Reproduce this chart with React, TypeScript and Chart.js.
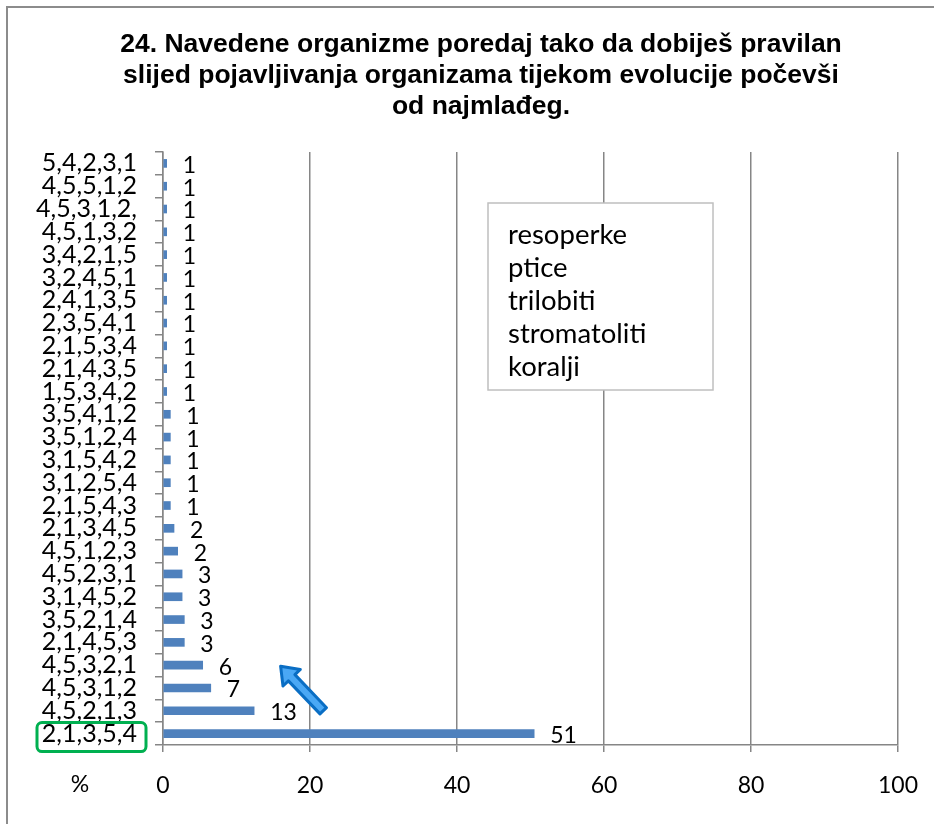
import React, { useEffect, useRef } from "react";
import { Chart, registerables } from "chart.js";

Chart.register(...registerables);

// Data (first item = bottom row of the chart)
const categories = [
  "2,1,3,5,4", "4,5,2,1,3", "4,5,3,1,2", "4,5,3,2,1", "2,1,4,5,3", "3,5,2,1,4",
  "3,1,4,5,2", "4,5,2,3,1", "4,5,1,2,3", "2,1,3,4,5", "2,1,5,4,3", "3,1,2,5,4",
  "3,1,5,4,2", "3,5,1,2,4", "3,5,4,1,2", "1,5,3,4,2", "2,1,4,3,5", "2,1,5,3,4",
  "2,3,5,4,1", "2,4,1,3,5", "3,2,4,5,1", "3,4,2,1,5", "4,5,1,3,2", "4,5,3,1,2,",
  "4,5,5,1,2", "5,4,2,3,1",
];
const percentValues = [
  50.5, 12.4, 6.5, 5.4, 2.9, 2.9, 2.6, 2.6, 2.0, 1.5, 1.0, 1.0, 1.0, 1.0, 1.0,
  0.5, 0.5, 0.5, 0.5, 0.5, 0.5, 0.5, 0.5, 0.5, 0.5, 0.5,
];
const valueLabels = [
  "51", "13", "7", "6", "3", "3", "3", "3", "2", "2", "1", "1", "1", "1", "1",
  "1", "1", "1", "1", "1", "1", "1", "1", "1", "1", "1",
];
const xTicks = [0, 20, 40, 60, 80, 100];
const titleLines = [
  "24. Navedene organizme poredaj tako da dobiješ pravilan",
  "slijed pojavljivanja organizama tijekom evolucije počevši",
  "od najmlađeg.",
];
const legendItems = ["resoperke", "ptice", "trilobiti", "stromatoliti", "koralji"];

const W = 934;
const H = 824;
const AXIS_GRAY = "#868686";
const BAR_BLUE = "#4f81bd";
const FONT = "Lato";

const decorPlugin = {
  id: "decor",
  beforeDraw(chart: any) {
    const ctx = chart.ctx;
    ctx.save();
    ctx.fillStyle = "#ffffff";
    ctx.fillRect(0, 0, chart.width, chart.height);
    ctx.strokeStyle = "#8c8c8c";
    ctx.lineWidth = 2;
    ctx.strokeRect(7, 7, chart.width + 20, chart.height + 20);

    // title
    ctx.fillStyle = "#000";
    ctx.font = `bold 26.5px "Liberation Sans"`;
    ctx.textAlign = "center";
    ctx.textBaseline = "middle";
    titleLines.forEach((t, i) => {
      ctx.fillText(t, 481, 45 + i * 31);
    });
    ctx.restore();
  },
  afterDatasetsDraw(chart: any) {
    const ctx = chart.ctx;
    const meta = chart.getDatasetMeta(0);
    ctx.save();
    ctx.fillStyle = "#000";
    ctx.font = `23px ${FONT}`;
    ctx.textAlign = "left";
    ctx.textBaseline = "middle";
    meta.data.forEach((bar: any, i: number) => {
      ctx.fillText(valueLabels[i], bar.x + 16, bar.y + 2);
    });
    ctx.restore();
  },
  afterDraw(chart: any) {
    const ctx = chart.ctx;
    const xs = chart.scales.x;
    const ys = chart.scales.y;
    const area = chart.chartArea;
    ctx.save();

    // "%" label at the tick row
    ctx.fillStyle = "#000";
    ctx.font = `23px ${FONT}`;
    ctx.textAlign = "center";
    ctx.textBaseline = "middle";
    ctx.fillText("%", area.left - 83, area.bottom + 40);

    // green highlight around the winning answer
    const yc = ys.getPixelForValue(0);
    ctx.strokeStyle = "#00b050";
    ctx.lineWidth = 3;
    ctx.beginPath();
    (ctx as any).roundRect(37, yc - 11, 109, 29, 5);
    ctx.stroke();

    // text box
    const bx = 488, by = 203, bw = 225, bh = 187;
    ctx.fillStyle = "#fff";
    ctx.fillRect(bx, by, bw, bh);
    ctx.strokeStyle = "#bfbfbf";
    ctx.lineWidth = 1.5;
    ctx.strokeRect(bx, by, bw, bh);
    ctx.fillStyle = "#000";
    ctx.font = `27.5px ${FONT}`;
    ctx.textAlign = "left";
    ctx.textBaseline = "middle";
    legendItems.forEach((t, i) => {
      ctx.fillText(t, 508, 235 + i * 33);
    });

    // arrow
    const tipX = xs.getPixelForValue(16), tipY = ys.getPixelForValue(3) + 1;
    const tailX = xs.getPixelForValue(21.8), tailY = ys.getPixelForValue(1);
    const dx = tipX - tailX, dy = tipY - tailY;
    const len = Math.hypot(dx, dy);
    const ux = dx / len, uy = dy / len;
    const px = -uy, py = ux;
    const headLen = 16, headHalf = 12, shaftHalf = 4.5;
    const bxp = tipX - ux * headLen, byp = tipY - uy * headLen;
    ctx.beginPath();
    ctx.moveTo(tipX, tipY);
    ctx.lineTo(bxp + px * headHalf, byp + py * headHalf);
    ctx.lineTo(bxp + px * shaftHalf, byp + py * shaftHalf);
    ctx.lineTo(tailX + px * shaftHalf, tailY + py * shaftHalf);
    ctx.lineTo(tailX - px * shaftHalf, tailY - py * shaftHalf);
    ctx.lineTo(bxp - px * shaftHalf, byp - py * shaftHalf);
    ctx.lineTo(bxp - px * headHalf, byp - py * headHalf);
    ctx.closePath();
    ctx.fillStyle = "#4aa8f5";
    ctx.fill();
    ctx.strokeStyle = "#0a6ec4";
    ctx.lineWidth = 3;
    ctx.lineJoin = "round";
    ctx.stroke();

    ctx.restore();
  },
};

export default function App() {
  const ref = useRef<HTMLCanvasElement | null>(null);
  useEffect(() => {
    if (!ref.current) return;
    const chart = new Chart(ref.current, {
      type: "bar",
      data: {
        labels: categories,
        datasets: [
          {
            data: percentValues,
            backgroundColor: BAR_BLUE,
            barThickness: 8,
          },
        ],
      },
      options: {
        indexAxis: "y",
        animation: false,
        responsive: false,
        devicePixelRatio: 1,
        layout: { padding: { left: 0, right: 36, top: 152, bottom: 0 } },
        plugins: {
          legend: { display: false },
          tooltip: { enabled: false },
          title: { display: false },
        },
        scales: {
          x: {
            min: 0,
            max: 100,
            afterBuildTicks: (scale: any) => {
              scale.ticks = xTicks.map((v) => ({ value: v }));
            },
            afterFit: (scale: any) => {
              scale.height = 79;
              scale.paddingLeft = 0;
              scale.paddingRight = 0;
            },
            grid: { color: AXIS_GRAY, lineWidth: 1.5, tickLength: 7 },
            border: { color: AXIS_GRAY, width: 1.5 },
            ticks: {
              color: "#000",
              padding: 20,
              font: { family: FONT, size: 23 },
            },
          },
          y: {
            reverse: true,
            afterFit: (scale: any) => {
              scale.width = 163;
              scale.paddingTop = 0;
              scale.paddingBottom = 0;
            },
            grid: {
              offset: true,
              drawOnChartArea: false,
              color: AXIS_GRAY,
              lineWidth: 1.5,
              tickLength: 8,
            },
            border: { color: AXIS_GRAY, width: 1.5 },
            ticks: {
              color: "#000",
              padding: 18,
              autoSkip: false,
              font: { family: FONT, size: 25 },
            },
          },
        },
      } as any,
      plugins: [decorPlugin],
    });
    return () => chart.destroy();
  }, []);
  return (
    <div style={{ position: "fixed", left: 0, top: 0, width: W, height: H, background: "#fff" }}>
      <canvas ref={ref} width={W} height={H} style={{ display: "block" }} />
    </div>
  );
}
